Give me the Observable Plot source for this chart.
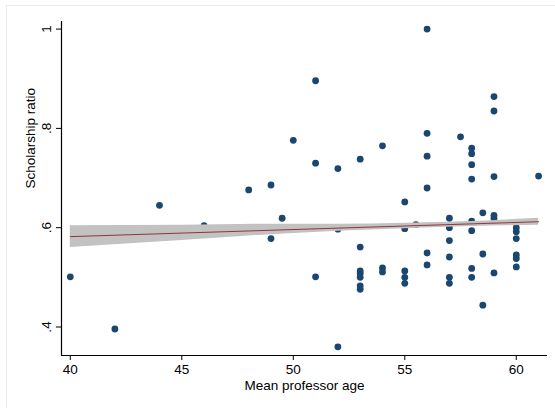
<!DOCTYPE html>
<html>
<head>
<meta charset="utf-8">
<script src="https://cdn.jsdelivr.net/npm/d3@7"></script>
<script src="https://cdn.jsdelivr.net/npm/@observablehq/plot@0.6"></script>
<style>
  html, body { margin: 0; padding: 0; background: #fff; }
  #wrap { position: relative; width: 555px; height: 408px; overflow: hidden; }
  #border { position: absolute; left: 6px; top: 5px; width: 560px; height: 420px; border: 1px solid #e4eef0; box-sizing: border-box; pointer-events: none; }
  svg { font-family: "Liberation Sans", Arial, sans-serif; }
</style>
</head>
<body>
<div id="wrap"><div id="border"></div></div>
<script>
// Mean professor age (x) and scholarship ratio (y)
const ages = [
  40, 42, 44, 46, 48, 49, 49, 49.5, 50,
  51, 51, 51,
  52, 52, 52,
  53, 53, 53, 53, 53, 53, 53,
  54, 54, 54,
  55, 55, 55, 55, 55,
  55.5,
  56, 56, 56, 56, 56, 56,
  57, 57, 57, 57, 57, 57,
  57.5,
  58, 58, 58, 58, 58, 58, 58, 58,
  58.5, 58.5, 58.5,
  59, 59, 59, 59, 59, 59,
  60, 60, 60, 60, 60, 60,
  61
];
const ratios = [
  0.501, 0.396, 0.645, 0.604, 0.676, 0.686, 0.578, 0.619, 0.776,
  0.896, 0.730, 0.501,
  0.719, 0.597, 0.360,
  0.738, 0.561, 0.513, 0.508, 0.500, 0.483, 0.476,
  0.765, 0.519, 0.511,
  0.652, 0.598, 0.513, 0.500, 0.488,
  0.606,
  1.000, 0.790, 0.744, 0.680, 0.549, 0.525,
  0.619, 0.600, 0.574, 0.541, 0.500, 0.488,
  0.783,
  0.760, 0.749, 0.727, 0.698, 0.613, 0.594, 0.518, 0.500,
  0.630, 0.547, 0.444,
  0.864, 0.835, 0.703, 0.625, 0.619, 0.509,
  0.600, 0.592, 0.578, 0.545, 0.538, 0.521,
  0.704
];
// Linear fit and its 95% confidence band
const fitAges = [40, 61];
const fitValues = [0.582, 0.612];
const bandAges = [40, 45, 49.4, 52, 55, 58, 61];
const bandUpper = [0.604, 0.605, 0.607, 0.607, 0.609, 0.6125, 0.619];
const bandLower = [0.560, 0.574, 0.587, 0.593, 0.598, 0.6025, 0.605];

const xTicks = [40, 45, 50, 55, 60];
const yTicks = [0.4, 0.6, 0.8, 1];
const xDomain = [39.606, 61.4];
const yDomain = [0.3426, 1.0153];
const xTitle = "Mean professor age";
const yTitle = "Scholarship ratio";

const data = ages.map((a, i) => ({age: a, ratio: ratios[i]}));
const fit = fitAges.map((a, i) => ({age: a, value: fitValues[i]}));
const band = bandAges.map((a, i) => ({age: a, lo: bandLower[i], hi: bandUpper[i]}));
const fmtY = d => d === 1 ? "1" : String(d).replace(/^0/, "");

const chart = Plot.plot({
  width: 555,
  height: 408,
  marginLeft: 61,
  marginRight: 8,
  marginTop: 21,
  marginBottom: 53,
  style: {fontFamily: "'Liberation Sans', Arial, sans-serif", fontSize: "13.5px", color: "#000", background: "transparent"},
  x: {domain: xDomain},
  y: {domain: yDomain},
  marks: [
    Plot.dot(data, {x: "age", y: "ratio", r: 3.4, fill: "#1a476f", stroke: "none"}),
    Plot.areaY(band, {x: "age", y1: "lo", y2: "hi", fill: "#c2c2c2", fillOpacity: 1, curve: "monotone-x"}),
    Plot.line(fit, {x: "age", y: "value", stroke: "#90353b", strokeWidth: 1}),
    Plot.ruleX([xDomain[0]], {stroke: "#000", strokeWidth: 1.2}),
    Plot.ruleY([yDomain[0]], {stroke: "#000", strokeWidth: 1.2}),
    Plot.axisX({ticks: xTicks, tickSize: 5, tickPadding: 4, tickFormat: d => String(d), label: null, fontSize: 13.5, stroke: "#000"}),
    Plot.axisY({ticks: yTicks, tickSize: 5, tickFormat: () => "", label: null, stroke: "#000"}),
    Plot.text(yTicks, {y: d => d, frameAnchor: "left", dx: -15, rotate: -90, text: fmtY, textAnchor: "middle", lineAnchor: "middle", fontSize: 13.5, fill: "#000"}),
    Plot.text([xTitle], {frameAnchor: "bottom", dy: 30, text: d => d, fontSize: 13.5, fill: "#000", lineAnchor: "middle"}),
    Plot.text([yTitle], {frameAnchor: "left", dx: -31, rotate: -90, text: d => d, fontSize: 13.5, fill: "#000", lineAnchor: "middle"})
  ]
});
document.getElementById("wrap").appendChild(chart);
</script>
</body>
</html>
